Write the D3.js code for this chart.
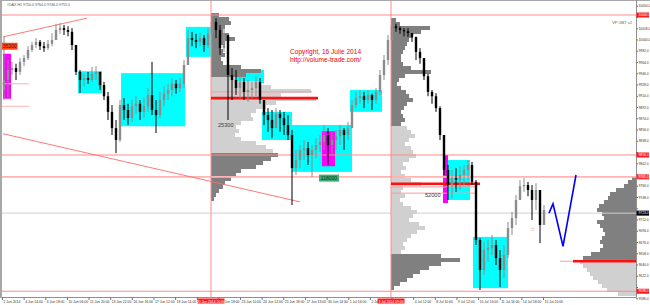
<!DOCTYPE html>
<html>
<head>
<meta charset="utf-8">
<script src="https://d3js.org/d3.v7.min.js"></script>
<style>
body { margin:0; background:#fff; }
svg text { font-family: "Liberation Sans", Arial, sans-serif; }
</style>
</head>
<body>
<svg id="chart" width="650" height="305"></svg>
<script>
// #DAX H1 bars (open = previous close)
var firstOpen = 9920;
var highs = [10006,9968,9965,9962,9971,9976,9990,9997,10003,10000,
  9997,10000,10011,10026,10027,10024,10022,10019,9992,9952,
  9946,9949,9957,9958,9949,9933,9917,9896,9872,9904,
  9907,9898,9904,9910,9904,9907,9923,9965,9904,9917,
  9926,9930,9939,9936,9939,9968,10016,10013,10010,10011,
  10008,10019,10040,10035,10024,10019,10000,9955,9952,9949,
  9939,9936,9933,9942,9939,9901,9891,9888,9891,9888,
  9885,9880,9856,9824,9832,9840,9837,9832,9843,9848,
  9864,9859,9853,9856,9864,9859,9869,9904,9917,9920,
  9917,9920,9914,9923,9952,9976,10008,10029,10026,10022,
  10019,10019,10011,10003,9987,9971,9946,9920,9915,9894,
  9848,9800,9792,9795,9798,9800,9808,9805,9776,9683,
  9677,9680,9688,9680,9664,9672,9709,9725,9752,9776,
  9779,9773,9768,9771,9760,9736];
var lows = [9904,9907,9944,9936,9944,9958,9968,9981,9987,9984,
  9981,9984,9990,10000,10010,10008,10006,9984,9944,9915,
  9926,9930,9933,9936,9920,9904,9872,9848,9819,9837,
  9872,9864,9869,9882,9872,9875,9885,9880,9851,9875,
  9894,9904,9910,9914,9917,9923,9965,9990,9987,9990,
  9981,9987,10013,10003,9976,9981,9872,9904,9912,9907,
  9904,9901,9907,9910,9898,9864,9853,9843,9862,9853,
  9848,9840,9736,9784,9795,9808,9800,9781,9811,9821,
  9824,9800,9816,9824,9832,9824,9840,9859,9891,9898,
  9891,9898,9888,9898,9912,9936,9960,10000,10013,10010,
  10006,10005,9997,9968,9962,9936,9910,9898,9885,9840,
  9784,9744,9747,9757,9760,9768,9776,9768,9672,9600,
  9624,9645,9656,9640,9605,9619,9651,9688,9704,9744,
  9757,9750,9712,9728,9675,9704];
var closes = [9936,9952,9955,9949,9965,9971,9984,9992,9997,9990,
  9987,9994,10000,10016,10019,10016,10013,9992,9949,9936,
  9939,9936,9946,9949,9928,9910,9885,9859,9840,9896,
  9888,9875,9894,9898,9885,9894,9912,9888,9880,9904,
  9914,9920,9930,9923,9930,9960,10003,10000,9997,10003,
  9992,10010,10029,10016,9987,10008,9944,9936,9923,9933,
  9917,9920,9923,9933,9904,9880,9872,9859,9882,9875,
  9864,9848,9795,9808,9824,9827,9816,9824,9832,9837,
  9848,9832,9840,9846,9856,9848,9859,9896,9907,9910,
  9904,9912,9904,9917,9944,9968,10000,10022,10019,10016,
  10014,10011,10005,9981,9971,9942,9917,9910,9891,9848,
  9792,9768,9779,9776,9784,9792,9800,9773,9680,9632,
  9664,9667,9672,9651,9632,9656,9699,9715,9744,9766,
  9768,9760,9744,9760,9704,9728];

// price axis and time axis labels
var priceTicks = [10054,10036,10018,10000,9982,9964,9946,9928,9910,9892,9874,9856,9838,
  9820,9802,9784,9766,9748,9730,9712,9694,9676,9658,9640,9622,9604,9586];
var timeLabels = ["2 Jun 2014","4 Jun 14:00","6 Jun 18:00","10 Jun 06:00","11 Jun 20:00",
  "13 Jun 22:00","16 Jun 16:00","17 Jun 12:00","18 Jun 14:00","19 Jun 16:00","20 Jun 18:00",
  "23 Jun 10:00","24 Jun 12:00","25 Jun 18:00","27 Jun 13:00","30 Jun 14:00","1 Jul 16:00",
  "2 Jul 18:00","3 Jul 20:00","4 Jul 12:00","8 Jul 10:00","9 Jul 12:00","10 Jul 14:00",
  "11 Jul 16:00","14 Jul 18:00","15 Jul 20:00"];

// horizontal levels (full width) and the two session lines
var levelPrices = [10040, 9816, 9781, 9723, 9598];
var sessionIdx = [51.75, 96.75];
var sessionText = ["20 Jun 2014 10:00", "3 Jul 2014 09:00"];

// zones: [fromIdx, toIdx, highPrice, lowPrice]
var cyanZones = [[18.5,24.5,9950,9915],[29.25,45.25,9947,9862],[45.5,51.75,10021,9973],
  [56,65,9952,9931],[64.5,72,9885,9840],[72,87,9864,9789],[86.5,94.5,9920,9885],
  [111,116.5,9808,9744],[117.25,126,9685,9603]];
var magentaZones = [[-0.25,1.75,9978,9906],[79.5,82.75,9854,9798],[109.75,111,9816,9739]];

// volume profiles: anchor bar, top bin price, bin step, volumes, value area
var prof1Vol = [8,18,20,14,12,18,24,14,10,12,14,10,12,30,50,35,25,50,60,100,70,105,65,55,45,
  40,42,30,25,28,24,30,45,55,62,67,60,52,45,30,25,20,14,12,8,5,3];
var prof2Vol = [5,9,39,30,22,18,16,14,12,10,10,12,20,40,14,8,6,10,15,18,22,16,13,10,12,14,10,
  16,20,24,18,14,20,22,25,18,12,15,10,14,20,30,12,10,14,9,12,20,26,22,18,28,34,26,20,16,12,14,10,
  50,69,50,38,29,22,16,9,3];
var prof3Vol = [4,8,12,20,26,28,32,37,39,34,32,39,36,33,31,34,36,33,36,45,53,56,53,49,46,43,38,34,29,18];
var profAnchor = [51.75, 96.75, 158];
var profTop = [10040, 10032, 9779.2];
var profVA = [[9941,9821],[9862,9658],[9648,9589]];
var binStep = 6.4;

// POC lines and thin value lines: price, from, to
var pocPrices = [9907, 9770, 9646], pocFrom = [51.75, 96.75, 142.25], pocTo = [78.5, 119, 158];
var thinPrices = [9917, 9765, 9755, 9646], thinFrom = [51.75, 96.75, 96.75, 139], thinTo = [77, 117.75, 117.75, 158];

// trend lines [idx1, price1, idx2, price2]
var trendLines = [[-0.25,10005,20.75,10035],[-0.25,9850,74,9741]];
var shortLines = [9930, 9894];

// projection drawn by hand
var projIdx = [136.25, 137.25, 139.75, 143];
var projPrice = [9723, 9738, 9670, 9784];

// volume tags
var tagText = ["35200","25300","118000","52000"];
var tagIdx = [-0.6, 53.5, 78.75, 105.25];
var tagPrice = [9990, 9864, 9779, 9752];

var svg = d3.select("#chart");
var x = d3.scaleLinear().domain([0, 135]).range([4, 544]);
var y = d3.scaleLinear().domain([10064, 9576]).range([0, 305]);
var tx = d3.scaleLinear().domain([0, 25]).range([2, 543]);
var vw = d3.scaleLinear().domain([0, 100]).range([0, 100]);

svg.append("defs").append("clipPath").attr("id","plot")
  .append("rect").attr("x",2).attr("y",1).attr("width",634).attr("height",296);
var plot = svg.append("g").attr("clip-path","url(#plot)");

// zones
plot.selectAll(".cz").data(cyanZones).enter().append("rect")
  .attr("x", d => x(d[0])).attr("width", d => x(d[1]) - x(d[0]))
  .attr("y", d => y(d[2])).attr("height", d => y(d[3]) - y(d[2]))
  .attr("fill", "#00ffff");
plot.selectAll(".mz").data(magentaZones).enter().append("rect")
  .attr("x", d => x(d[0])).attr("width", d => x(d[1]) - x(d[0]))
  .attr("y", d => y(d[2])).attr("height", d => y(d[3]) - y(d[2]))
  .attr("fill", "#ff00ff");

// volume profiles
[prof1Vol, prof2Vol, prof3Vol].forEach(function(vols, p){
  var ax = x(profAnchor[p]);
  vols.forEach(function(v, i){
    var pr = profTop[p] - i * binStep;
    var w = vw(v);
    var inVA = pr <= profVA[p][0] && pr >= profVA[p][1];
    plot.append("rect")
      .attr("x", p == 2 ? ax - w : ax).attr("width", w)
      .attr("y", y(pr + binStep/2)).attr("height", y(pr - binStep/2) - y(pr + binStep/2))
      .attr("fill", inVA ? "#d0d0d0" : "#808080");
  });
});

// level lines
var levelColors = ["#ff8a8a","#ff8a8a","#ffb4b4","#cfcfcf","#ff8a8a"];
levelPrices.forEach(function(pr, i){
  plot.append("line").attr("x1",2).attr("x2",636).attr("y1",y(pr)).attr("y2",y(pr))
    .attr("stroke", levelColors[i]).attr("stroke-width", i==2 ? 1.6 : 1);
});
sessionIdx.forEach(function(si){
  plot.append("line").attr("x1",x(si)).attr("x2",x(si)).attr("y1",0).attr("y2",297)
    .attr("stroke","#ff8a8a").attr("stroke-width",1);
});
shortLines.forEach(function(pr){
  plot.append("line").attr("x1",2).attr("x2",29).attr("y1",y(pr)).attr("y2",y(pr))
    .attr("stroke","#ffb0b0").attr("stroke-width",1);
});
trendLines.forEach(function(t){
  plot.append("line").attr("x1",x(t[0])).attr("y1",y(t[1])).attr("x2",x(t[2])).attr("y2",y(t[3]))
    .attr("stroke","#ff6a6a").attr("stroke-width",0.9);
});
thinPrices.forEach(function(pr, i){
  plot.append("line").attr("x1",x(thinFrom[i])).attr("x2",x(thinTo[i])).attr("y1",y(pr)).attr("y2",y(pr))
    .attr("stroke","#ff9a9a").attr("stroke-width",1);
});
pocPrices.forEach(function(pr, i){
  plot.append("line").attr("x1",x(pocFrom[i])).attr("x2",x(pocTo[i])).attr("y1",y(pr)).attr("y2",y(pr))
    .attr("stroke","#ff1010").attr("stroke-width",2.6);
});

// candles
var bars = closes.map(function(c, i){
  var o = i ? closes[i-1] : firstOpen;
  return {i:i, o:o, c:c, h:Math.max(highs[i],o,c), l:Math.min(lows[i],o,c)};
});
var cg = plot.append("g");
bars.forEach(function(b){
  var col = b.c > b.o ? "#8c8c8c" : "#000";
  cg.append("line").attr("x1",x(b.i)).attr("x2",x(b.i)).attr("y1",y(b.h)).attr("y2",y(b.l))
    .attr("stroke",col).attr("stroke-width",1);
  var top = y(Math.max(b.o,b.c)), bot = y(Math.min(b.o,b.c));
  cg.append("rect").attr("x",x(b.i)-1.2).attr("width",2.4)
    .attr("y",top).attr("height",Math.max(0.8, bot-top)).attr("fill",col);
});

// projection
plot.append("path")
  .attr("d", d3.line().x((d,i) => x(projIdx[i])).y(d => y(d))(projPrice))
  .attr("fill","none").attr("stroke","#0000ff").attr("stroke-width",1.6);
plot.append("text").attr("x",x(132)).attr("y",y(9694)).attr("font-size",6)
  .attr("fill","#ff7070").attr("text-anchor","middle").text("\u2606");

// volume tags
tagText.forEach(function(t, i){
  var tx0 = x(tagIdx[i]), ty0 = y(tagPrice[i]);
  if (i == 0 || i == 2) {
    var w = i == 0 ? 16 : 20;
    svg.append("rect").attr("x",tx0).attr("y",ty0-3.5).attr("width",w).attr("height",7)
      .attr("fill", i == 0 ? "#ff4a1a" : "#3cb070");
    svg.append("text").attr("x",tx0+w/2).attr("y",ty0+1.8).attr("font-size",5)
      .attr("text-anchor","middle").attr("fill", i == 0 ? "#5a0a00" : "#0a2a10").text(t);
  } else {
    svg.append("text").attr("x",tx0).attr("y",ty0+2).attr("font-size",5.6)
      .attr("fill","#404040").text(t);
  }
});

// copyright
svg.append("text").attr("x",290).attr("y",54).attr("font-size",6.6).attr("fill","#f00000")
  .text("Copyright, 16 Julie 2014");
svg.append("text").attr("x",290).attr("y",62).attr("font-size",6.6).attr("fill","#f00000")
  .text("http://volume-trade.com/");

// frame
svg.append("rect").attr("x",0).attr("y",0).attr("width",2).attr("height",298).attr("fill","#a8a8a8");
svg.append("line").attr("x1",0).attr("x2",650).attr("y1",0.5).attr("y2",0.5).attr("stroke","#a8a8a8");
svg.append("line").attr("x1",636.5).attr("x2",636.5).attr("y1",0).attr("y2",297).attr("stroke","#909090");
svg.append("line").attr("x1",2).attr("x2",637).attr("y1",297.5).attr("y2",297.5).attr("stroke","#909090");
svg.append("text").attr("x",7).attr("y",5.5).attr("font-size",3.6).attr("fill","#555")
  .text("#DAX,H1  9750.0 9764.0 9746.0 9755.0");
svg.append("text").attr("x",632).attr("y",24).attr("font-size",4).attr("fill","#666")
  .attr("text-anchor","end").text("VP GBT v2");

// price axis (a tick label under a level label is covered, as in the terminal)
var yAxis = svg.append("g");
var pfmt = d3.format(".1f");
priceTicks.forEach(function(pr){
  var covered = levelPrices.some(lp => Math.abs(y(lp) - y(pr)) < 4.5);
  yAxis.append("line").attr("x1",636).attr("x2",638).attr("y1",y(pr)).attr("y2",y(pr)).attr("stroke","#777");
  if (!covered)
    yAxis.append("text").attr("x",638.5).attr("y",y(pr)+1.2).attr("font-size",3.3).attr("fill","#333")
      .text(pfmt(pr));
});
var levelLabelBg = ["#ff1a1a","#ff1a1a","#ff3030","#000","#ff1a1a"];
levelPrices.forEach(function(pr, i){
  yAxis.append("rect").attr("x",636.5).attr("y",y(pr)-2.5).attr("width",12.5).attr("height",5)
    .attr("fill",levelLabelBg[i]);
  yAxis.append("text").attr("x",638.5).attr("y",y(pr)+1.2).attr("font-size",3.3).attr("fill","#fff")
    .text(pfmt(pr));
});

// time axis (labels sitting under a session box are hidden, as in the terminal)
var xAxis = svg.append("g");
timeLabels.forEach(function(t, k){
  var hidden = sessionIdx.some(si => tx(k) > x(si) - 15 && tx(k) < x(si) + 3);
  xAxis.append("line").attr("x1",tx(k)+0.5).attr("x2",tx(k)+0.5).attr("y1",297).attr("y2",300).attr("stroke","#777");
  if (!hidden)
    xAxis.append("text").attr("x",tx(k)+1.5).attr("y",302.5).attr("font-size",3.4).attr("fill","#333").text(t);
});
sessionIdx.forEach(function(si, i){
  var cx = x(si);
  xAxis.append("rect").attr("x",cx-13.5).attr("y",298.5).attr("width",27).attr("height",5).attr("fill","#ff1a1a");
  xAxis.append("text").attr("x",cx).attr("y",302.5).attr("font-size",3.4).attr("fill","#fff")
    .attr("text-anchor","middle").text(sessionText[i]);
});
</script>
</body>
</html>
